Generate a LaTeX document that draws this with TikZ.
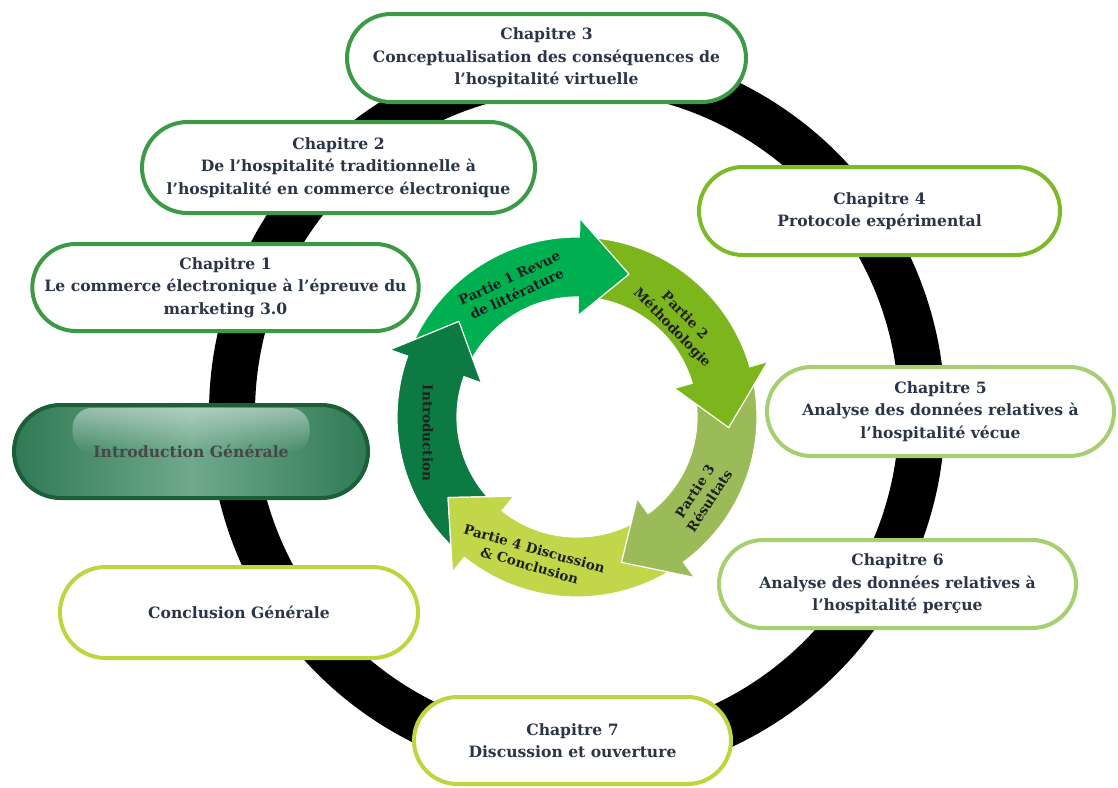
\documentclass[tikz,border=0pt]{standalone}
\usepackage{fontspec}
\setmainfont{DejaVu Serif}
\usetikzlibrary{shapes.misc,fadings}
\definecolor{txt}{HTML}{2B3548}
\definecolor{bA}{HTML}{3C9A46}
\definecolor{bB}{HTML}{7CBA2A}
\definecolor{bC}{HTML}{A6CF72}
\definecolor{bD}{HTML}{BCD640}
\definecolor{aI}{HTML}{0E7A43}
\definecolor{aA}{HTML}{00B050}
\definecolor{aB}{HTML}{7DB61C}
\definecolor{aC}{HTML}{9BBB59}
\definecolor{aD}{HTML}{C2D64A}
\definecolor{igEdge}{HTML}{2F7A55}
\definecolor{igMid}{HTML}{6FA98B}
\definecolor{igLine}{HTML}{1B5E38}
\tikzfading[name=glossfade, top color=transparent!55, bottom color=transparent!100]
\newcommand\cycfull[4]{%
  \filldraw[fill=#1, draw=white, line width=1.2pt, line join=round]
    (#2:180pt) arc[start angle=#2, end angle=#3, radius=180pt] -- (#3:198pt) -- (#4:152pt)
    -- (#3:102pt) -- (#3:120pt) arc[start angle=#3, end angle=#2, radius=120pt] -- cycle;}
\newcommand\cychead[4]{%
  \fill[#1] (#3:198pt) -- (#4:152pt) -- (#3:102pt) -- cycle;
  \draw[white, line width=1.2pt, line join=round] (#3:198pt) -- (#4:152pt) -- (#3:102pt);}
\begin{document}
\begin{tikzpicture}[x=1pt,y=1pt,
  chbox/.style={rounded rectangle, draw, line width=4pt, fill=white, align=center,
    text=txt, font=\bfseries\fontsize{15.6}{22.5}\selectfont, inner sep=0pt},
  arrlabel/.style={align=center, text=black!88, font=\bfseries\fontsize{13.5}{17.5}\selectfont, inner sep=0pt}]
\useasboundingbox (0,0) rectangle (1118,-787);
% black ring
\draw[line width=46pt] (577,-413) circle[radius=345pt];
% chapter boxes
\node[chbox, draw=bA, minimum width=399pt, minimum height=88pt] (ch3) at (546.5,-58)
  {Chapitre 3\\Conceptualisation des conséquences de\\l'hospitalité virtuelle};
\node[chbox, draw=bA, minimum width=393pt, minimum height=91pt] (ch2) at (338.5,-167.5)
  {Chapitre 2\\De l'hospitalité traditionnelle à\\l'hospitalité en commerce électronique};
\node[chbox, draw=bA, minimum width=381pt, minimum height=87pt] (ch1) at (225.5,-287.5)
  {Chapitre 1\\Le commerce électronique à l'épreuve du\\marketing 3.0};
\node[chbox, draw=bB, minimum width=361pt, minimum height=88pt] (ch4) at (879.5,-211)
  {Chapitre 4\\Protocole expérimental};
\node[chbox, draw=bC, minimum width=347pt, minimum height=89pt] (ch5) at (940.5,-411.5)
  {Chapitre 5\\Analyse des données relatives à\\l'hospitalité vécue};
\node[chbox, draw=bC, minimum width=357pt, minimum height=88pt] (ch6) at (897.5,-584)
  {Chapitre 6\\Analyse des données relatives à\\l'hospitalité perçue};
\node[chbox, draw=bD, minimum width=317pt, minimum height=87pt] (ch7) at (572.5,-740.5)
  {Chapitre 7\\Discussion et ouverture};
\node[chbox, draw=bD, minimum width=358pt, minimum height=91pt] (concg) at (239,-612.5)
  {Conclusion Générale};
% introduction generale (glossy)
\node[rounded rectangle, minimum width=354pt, minimum height=93pt, inner sep=0pt,
  left color=igEdge, right color=igEdge, middle color=igMid] (introgbg) at (191,-451.5) {};
\fill[white, path fading=glossfade, rounded corners=20pt]
  ([xshift=12pt,yshift=-3pt]introgbg.north west) rectangle ([xshift=-12pt,yshift=-48pt]introgbg.north east);
\node[rounded rectangle, draw=igLine, line width=4pt, minimum width=354pt, minimum height=93pt,
  inner sep=0pt, text=black!72, font=\bfseries\fontsize{15.6}{22.5}\selectfont] (introg) at (191,-451.5)
  {Introduction Générale};
% central cycle
\begin{scope}[shift={(577,-417)}]
  \cycfull{aI}{228}{160}{141}
  \cycfull{aA}{157}{89}{70}
  \cycfull{aB}{86}{16}{-4}
  \cycfull{aC}{13}{-54}{-73}
  \cycfull{aD}{-57}{-129}{-148}
  \cychead{aI}{228}{160}{141}
  \cychead{aA}{157}{89}{70}
  \cychead{aB}{86}{16}{-4}
  \cychead{aC}{13}{-54}{-73}
  \cychead{aD}{-57}{-129}{-148}
\end{scope}
\node[arrlabel, rotate=-90] (lintro) at (428,-433) {Introduction};
\node[arrlabel, rotate=25] (lp1) at (513,-286) {Partie 1 Revue\\de littérature};
\node[arrlabel, rotate=-46] (lp2) at (678,-322) {Partie 2\\Méthodologie};
\node[arrlabel, rotate=57] (lp3) at (702,-496) {Partie 3\\Résultats};
\node[arrlabel, rotate=-16] (lp4) at (532,-557) {Partie 4 Discussion\\\& Conclusion};
\end{tikzpicture}
\end{document}
